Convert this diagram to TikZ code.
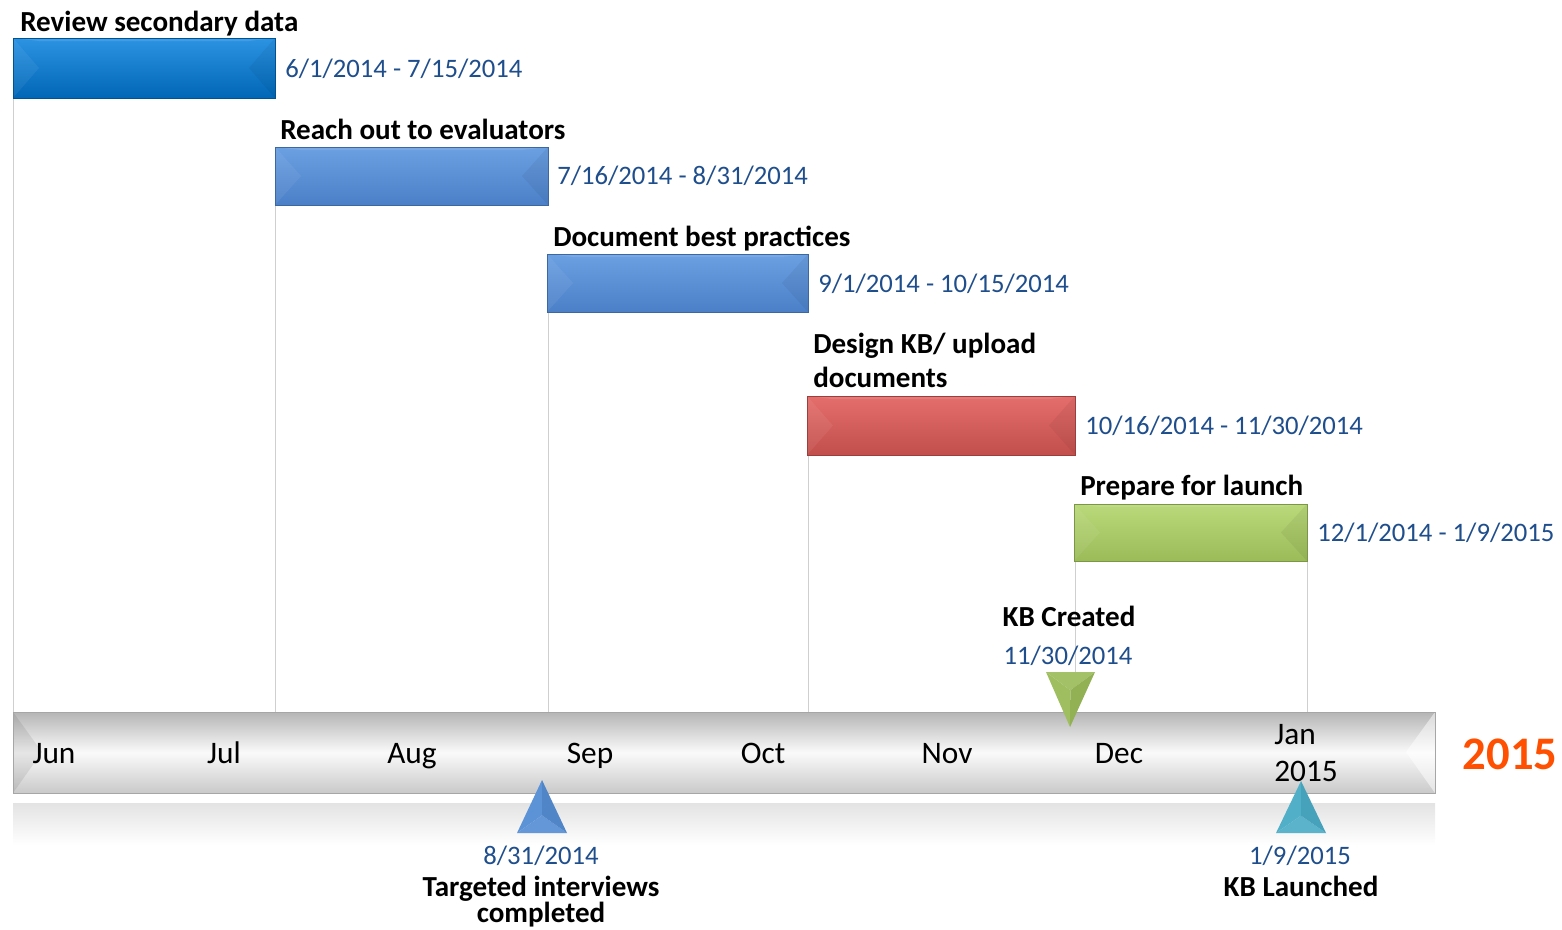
\documentclass[tikz,border=0pt]{standalone}
\usepackage{fontspec}
\setmainfont{Carlito}
\definecolor{datecol}{HTML}{1F4E8C}
\definecolor{gridcol}{HTML}{CFCFCF}
\definecolor{yearcol}{HTML}{FF4F00}
\definecolor{b1top}{HTML}{2C93E3}
\definecolor{b1bot}{HTML}{0066B5}
\definecolor{b2top}{HTML}{6BA0E2}
\definecolor{b2bot}{HTML}{4B80C8}
\definecolor{rtop}{HTML}{E46E6B}
\definecolor{rbot}{HTML}{C24F4C}
\definecolor{gtop}{HTML}{BAD97A}
\definecolor{gbot}{HTML}{9BBB59}
\definecolor{msgreen}{HTML}{9BBB59}
\definecolor{msblue}{HTML}{558ED5}
\definecolor{mscyan}{HTML}{4BACC6}
\usetikzlibrary{calc}
\newcommand\ganttbar[7]{%
  \coordinate (#1a) at (#2,#3);
  \coordinate (#1b) at (#4,#5);
  \shade[top color=#6, bottom color=#7] (#1a) rectangle (#1b);
  \fill[white, opacity=0.06] (#2,#3) -- ({#2+26},{(#3+#5)/2}) -- (#2,#5) -- cycle;
  \fill[black, opacity=0.05] (#4,#3) -- ({#4-26},{(#3+#5)/2}) -- (#4,#5) -- cycle;
  \fill[white, opacity=0.10] (#2,#3) -- (#4,#3) -- ({#4-26},{#3+3}) -- ({#2+26},{#3+3}) -- cycle;
  \draw[#7!80!black, line width=0.4pt] (#1a) rectangle (#1b);
}
\newcommand\milestone[5]{%
  \coordinate (#1c) at ($1/3*(#2)+1/3*(#3)+1/3*(#4)$);
  \fill[#5!92!white] (#3) -- (#4) -- (#1c) -- cycle;
  \fill[#5!96!white] (#2) -- (#3) -- (#1c) -- cycle;
  \fill[#5!94!black] (#2) -- (#4) -- (#1c) -- cycle;
}
\begin{document}
\begin{tikzpicture}[x=0.75pt,y=-0.75pt,
  task/.style={font=\bfseries\fontsize{21.8}{26}\selectfont, anchor=base west, inner sep=0pt},
  datelbl/.style={font=\fontsize{20}{24}\selectfont, text=datecol, anchor=base west, inner sep=0pt},
  mslbl/.style={font=\bfseries\fontsize{21.8}{26}\selectfont, anchor=base, inner sep=0pt},
  msdate/.style={font=\fontsize{20}{24}\selectfont, text=datecol, anchor=base, inner sep=0pt},
  month/.style={font=\fontsize{23.5}{28}\selectfont, anchor=base, inner sep=0pt},
  gridline/.style={draw=gridcol, line width=0.75pt}]
\useasboundingbox (0,0) rectangle (1562,929);

% timeline
\coordinate (tlA) at (13,712);
\coordinate (tlB) at (1435,793);
\shade[top color=gray!58, bottom color=gray!42, middle color=gray!4] (tlA) rectangle (tlB);
\fill[black, opacity=0.08] (13,712) -- (42,752) -- (13,793) -- cycle;
\fill[white, opacity=0.5] (1435,712) -- (1406,752) -- (1435,793) -- cycle;
\draw[gray!70, line width=0.5pt] (tlA) rectangle (tlB);
\shade[top color=gray!22, bottom color=white] (13,803) rectangle (1435,845);

% grid lines
\draw[gridline] (13,98) -- (13,712);
\draw[gridline] (275,205) -- (275,712);
\draw[gridline] (548,312) -- (548,712);
\draw[gridline] (808,455) -- (808,712);
\draw[gridline] (1075,561) -- (1075,712);
\draw[gridline] (1307,561) -- (1307,712);

% bars
\ganttbar{b1}{13}{38}{275}{98}{b1top}{b1bot}
\ganttbar{b2}{275}{147}{548}{205}{b2top}{b2bot}
\ganttbar{b3}{547}{254}{808}{312}{b2top}{b2bot}
\ganttbar{b4}{807}{396}{1075}{455}{rtop}{rbot}
\ganttbar{b5}{1074}{504}{1307}{561}{gtop}{gbot}

% task labels
\node[task] (t1) at (20,31) {Review secondary data};
\node[datelbl] (d1) at (285,77) {6/1/2014 - 7/15/2014};
\node[task] (t2) at (280,139) {Reach out to evaluators};
\node[datelbl] (d2) at (557,184) {7/16/2014 - 8/31/2014};
\node[task] (t3) at (553,246) {Document best practices};
\node[datelbl] (d3) at (818,292) {9/1/2014 - 10/15/2014};
\node[task] (t4) at (813,353) {Design KB/ upload};
\node[task] (t4b) at (813,387) {documents};
\node[datelbl] (d4) at (1085,434) {10/16/2014 - 11/30/2014};
\node[task] (t5) at (1080,495) {Prepare for launch};
\node[datelbl] (d5) at (1317,541) {12/1/2014 - 1/9/2015};

% months
\node[month] (mJun) at (54,763) {Jun};
\node[month] (mJul) at (224,763) {Jul};
\node[month] (mAug) at (412,763) {Aug};
\node[month] (mSep) at (590,763) {Sep};
\node[month] (mOct) at (763,763) {Oct};
\node[month] (mNov) at (947,763) {Nov};
\node[month] (mDec) at (1119,763) {Dec};
\node[month] (mJan) at (1295,744) {Jan};
\node[month] (mJan2) at (1306,781) {2015};
\node[font=\bfseries\fontsize{35}{40}\selectfont, text=yearcol, anchor=base, inner sep=0pt] (year) at (1510,769) {2015};

% milestones
\node[mslbl] (m1t) at (1069,626) {KB Created};
\node[msdate] (m1d) at (1068,664) {11/30/2014};
\milestone{m1}{1070,727}{1046,672}{1095,672}{msgreen}

\milestone{m2}{542,780}{517,833}{567,833}{msblue}
\node[msdate] (m2d) at (541,864) {8/31/2014};
\node[mslbl] (m2t) at (541,896) {Targeted interviews};
\node[mslbl] (m2t2) at (541,922) {completed};

\milestone{m3}{1301,781}{1276,833}{1326,833}{mscyan}
\node[msdate] (m3d) at (1300,864) {1/9/2015};
\node[mslbl] (m3t) at (1301,896) {KB Launched};
\end{tikzpicture}
\end{document}
